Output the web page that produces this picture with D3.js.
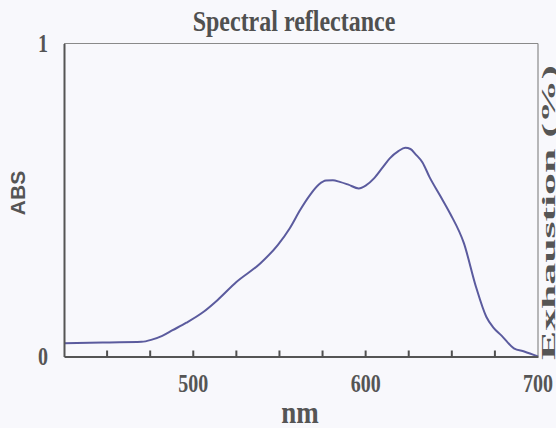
<!DOCTYPE html>
<html>
<head>
<meta charset="utf-8">
<script src="https://cdn.jsdelivr.net/npm/d3@7"></script>
<style>
  html, body { margin: 0; padding: 0; background: #f8f8fc; }
  svg { display: block; }
</style>
</head>
<body>
<svg id="chart" width="556" height="428"></svg>
<script>
// ---- data ----
const wavelength = [425, 450, 470, 476, 482, 488, 496, 506, 514, 525, 539, 549, 556, 562, 568, 573, 577, 581, 585, 590, 596, 600, 605, 610, 614, 619, 623, 626, 629, 633, 637, 643, 649, 657, 664, 670, 674, 679, 686, 692, 700];
const absValues  = [0.042, 0.045, 0.047, 0.054, 0.066, 0.084, 0.108, 0.143, 0.180, 0.238, 0.298, 0.356, 0.410, 0.468, 0.518, 0.550, 0.562, 0.563, 0.558, 0.549, 0.537, 0.546, 0.570, 0.605, 0.633, 0.656, 0.667, 0.663, 0.646, 0.620, 0.574, 0.516, 0.457, 0.362, 0.223, 0.127, 0.093, 0.066, 0.026, 0.016, 0.0];
const xTickValues = [450, 475, 500, 525, 550, 575, 600, 625, 650, 675];
const xTickLabels = [500, 600, 700];
const yTickLabels = [0, 1];
const titleText = "Spectral reflectance";
const xTitle = "nm";
const yTitle = "ABS";
const y2Title = "Exhaustion (%)";

// ---- layout ----
const L = 64, R = 538, T = 43.5, B = 356.5;
const svg = d3.select("#chart");
const x = d3.scaleLinear().domain([425, 700]).range([L, R]);
const y = d3.scaleLinear().domain([0, 1]).range([B, T]);

const axisCol = "#555";
const textCol = "#555";
const serif = "'Liberation Serif', 'Times New Roman', serif";

// frame top/right (thin)
svg.append("line").attr("x1", L).attr("x2", R).attr("y1", T).attr("y2", T)
  .attr("stroke", "#8a8a8a").attr("stroke-width", 1.2);
svg.append("line").attr("x1", R).attr("x2", R).attr("y1", T).attr("y2", B)
  .attr("stroke", "#8a8a8a").attr("stroke-width", 1.2);

// curve
const pts = wavelength.map((w, i) => [w, absValues[i]]);
const line = d3.line().x(d => x(d[0])).y(d => y(d[1])).curve(d3.curveMonotoneX);
svg.append("path").datum(pts).attr("d", line)
  .attr("fill", "none").attr("stroke", "#5b5b9e").attr("stroke-width", 2);

// bottom axis line
const xAxis = d3.axisBottom(x).tickValues([]).tickSizeOuter(0);
const gx = svg.append("g").attr("transform", `translate(0,${B})`).call(xAxis);
gx.select(".domain").attr("stroke", axisCol).attr("stroke-width", 2);

// inward ticks on the bottom axis
svg.selectAll("line.xt").data(xTickValues).enter().append("line")
  .attr("class", "xt")
  .attr("x1", d => x(d)).attr("x2", d => x(d))
  .attr("y1", B).attr("y2", B - 6)
  .style("stroke", "#505050").style("stroke-width", "2px");

// left axis
const yAxis = d3.axisLeft(y).tickValues([]).tickSizeOuter(0);
const gy = svg.append("g").attr("transform", `translate(${L},0)`).call(yAxis);
gy.select(".domain").attr("stroke", axisCol).attr("stroke-width", 2);

// x tick labels
svg.selectAll("text.xl").data(xTickLabels).enter().append("text")
  .attr("class", "xl")
  .attr("transform", d => `translate(${x(d)},${392}) scale(1,1.3)`)
  .attr("text-anchor", "middle")
  .attr("font-family", serif).attr("font-weight", "bold").attr("font-size", 20)
  .attr("fill", textCol).text(d => d);

// y tick labels
svg.selectAll("text.yl").data(yTickLabels).enter().append("text")
  .attr("class", "yl")
  .attr("transform", d => `translate(${43},${y(d) + 8}) scale(1,1.3)`)
  .attr("text-anchor", "middle")
  .attr("font-family", serif).attr("font-weight", "bold").attr("font-size", 20)
  .attr("fill", textCol).text(d => d);

// title
svg.append("text")
  .attr("transform", `translate(294,31) scale(1,1.2)`)
  .attr("text-anchor", "middle")
  .attr("font-family", serif).attr("font-weight", "bold").attr("font-size", 24)
  .attr("fill", "#505050").text(titleText);

// x title
svg.append("text")
  .attr("transform", `translate(300,423) scale(1,1.15)`)
  .attr("text-anchor", "middle")
  .attr("font-family", serif).attr("font-weight", "bold").attr("font-size", 27)
  .attr("fill", textCol).text(xTitle);

// y title
svg.append("text")
  .attr("transform", `translate(25,193) rotate(-90)`)
  .attr("text-anchor", "middle")
  .attr("font-family", "'Liberation Sans', Arial, sans-serif").attr("font-weight", "bold").attr("font-size", 21)
  .attr("fill", textCol).text(yTitle);

// right y title (partly cut by the image edge, as in the reference)
svg.append("text")
  .attr("transform", `translate(555,360) scale(1,2.3) rotate(-90)`)
  .attr("text-anchor", "start")
  .attr("font-family", serif).attr("font-weight", "bold").attr("font-size", 19)
  .attr("fill", textCol).text(y2Title);
</script>
</body>
</html>
